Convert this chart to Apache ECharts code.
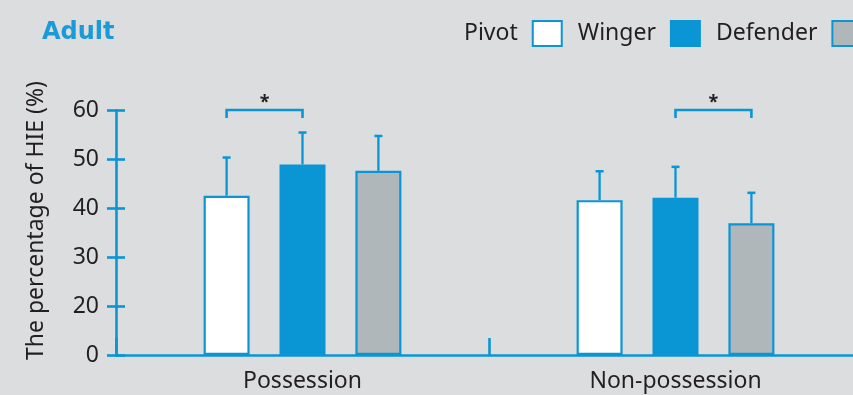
<!DOCTYPE html>
<html>
<head>
<meta charset="utf-8">
<script src="https://cdn.jsdelivr.net/npm/echarts@6.0.0/dist/echarts.min.js"></script>
<style>
  html, body { margin: 0; padding: 0; background: #dcdddf; }
  #chart { width: 853px; height: 395px; }
</style>
</head>
<body>
<div id="chart"></div>
<script>
// Share of HIE by playing position, adult players (mean + SD)
const categories = ['Possession', 'Non-possession'];
const positions = ['Pivot', 'Winger', 'Defender'];
const pivotMean = [42.5, 41.6];
const pivotSD = [7.8, 5.9];
const wingerMean = [48.9, 42.1];
const wingerSD = [6.5, 6.3];
const defenderMean = [47.6, 36.9];
const defenderSD = [7.1, 6.2];
const yTicks = [0, 20, 30, 40, 50, 60];
// significant pairs: [category index, first position, second position, bracket level]
const significance = [[0, 0, 1, 60], [1, 1, 2, 60]];

const BLUE = '#0a95d5';
const TEXT = '#231f20';
const FONT = 'Noto Sans';
const FS = 23;
const BAR_W = 46;
const BAR_GAP = 0.65;
const STEP = BAR_W * (1 + BAR_GAP);
const AXIS_W = 2.6;

const means = [pivotMean, wingerMean, defenderMean];
const sds = [pivotSD, wingerSD, defenderSD];
const fills = ['#ffffff', BLUE, '#b0b7ba'];

const barSeries = positions.map((name, i) => ({
  name: name,
  type: 'bar',
  data: means[i],
  barWidth: BAR_W,
  barGap: (BAR_GAP * 100) + '%',
  itemStyle: { color: fills[i], borderColor: BLUE, borderWidth: 2.2 },
  z: 2
}));

const errorSeries = positions.map((name, i) => ({
  name: name + ' SD',
  type: 'custom',
  data: means[i].map((m, c) => [c, m, sds[i][c]]),
  encode: { x: 0, y: 1 },
  z: 3,
  renderItem: (params, api) => {
    const c = api.value(0), m = api.value(1), s = api.value(2);
    const p0 = api.coord([c, m]);
    const p1 = api.coord([c, m + s]);
    const x = p0[0] + (i - 1) * STEP;
    return {
      type: 'group',
      children: [
        { type: 'line', shape: { x1: x, y1: p0[1], x2: x, y2: p1[1] },
          style: { stroke: BLUE, lineWidth: 2.3 } },
        { type: 'line', shape: { x1: x - 4, y1: p1[1], x2: x + 4, y2: p1[1] },
          style: { stroke: BLUE, lineWidth: 2.5 } }
      ]
    };
  }
}));

const bracketSeries = {
  name: 'significance',
  type: 'custom',
  data: significance,
  encode: { x: 0, y: 3 },
  z: 3,
  renderItem: (params, api) => {
    const c = api.value(0), a = api.value(1), b = api.value(2), lvl = api.value(3);
    const p = api.coord([c, lvl]);
    const xa = p[0] + (a - 1) * STEP;
    const xb = p[0] + (b - 1) * STEP;
    const y = p[1];
    return {
      type: 'group',
      children: [
        { type: 'polyline', shape: { points: [[xa, y + 8], [xa, y], [xb, y], [xb, y + 8]] },
          style: { stroke: BLUE, lineWidth: 2.6, fill: null } },
        { type: 'text', style: { text: '*', x: (xa + xb) / 2, y: y - 7, align: 'center',
          verticalAlign: 'middle', fontSize: 18, fontWeight: 'bold', fontFamily: FONT, fill: TEXT } }
      ]
    };
  }
};

const yBreaks = [{ start: 10, end: 20, gap: 0 }];

const chart = echarts.init(document.getElementById('chart'), null, { renderer: 'canvas' });
chart.setOption({
  backgroundColor: '#dcdddf',
  animation: false,
  title: {
    text: 'Adult',
    left: 37,
    top: 16,
    textStyle: { color: '#1a9ad8', fontSize: 24, fontWeight: 'bold', fontFamily: 'DejaVu Sans' }
  },
  legend: {
    data: positions,
    left: 459,
    top: 15,
    width: 700,
    align: 'right',
    icon: 'rect',
    itemWidth: 29,
    itemHeight: 25,
    itemGap: 15,
    textStyle: { fontSize: FS, color: TEXT, fontFamily: FONT, padding: [0, 10, 0, 0] }
  },
  grid: { left: 116, right: -9, top: 110, bottom: 40, containLabel: false, outerBoundsMode: 'none' },
  xAxis: {
    type: 'category',
    data: categories,
    axisLine: { lineStyle: { color: BLUE, width: AXIS_W } },
    axisTick: { show: true, inside: true, length: 17, lineStyle: { color: BLUE, width: AXIS_W } },
    axisLabel: { fontSize: FS, color: TEXT, fontFamily: FONT, margin: 15 }
  },
  yAxis: [
    {
      type: 'value',
      position: 'left',
      min: 0,
      max: 60,
      breaks: yBreaks,
      breakArea: { show: false },
      name: 'The percentage of HIE (%)',
      nameLocation: 'middle',
      nameGap: 68,
      nameTextStyle: { fontSize: FS, color: TEXT, fontFamily: FONT, padding: [0, 0, 0, 24] },
      axisLine: { show: true, lineStyle: { color: BLUE, width: AXIS_W } },
      axisTick: { show: true, length: 9, customValues: yTicks, lineStyle: { color: BLUE, width: AXIS_W } },
      axisLabel: { fontSize: FS, color: TEXT, fontFamily: FONT, margin: 17, customValues: yTicks },
      splitLine: { show: false }
    },
    {
      type: 'value',
      position: 'left',
      offset: 0,
      min: 0,
      max: 60,
      breaks: yBreaks,
      breakArea: { show: false },
      axisLine: { show: false },
      axisTick: { show: true, inside: true, length: 9, customValues: yTicks, lineStyle: { color: BLUE, width: AXIS_W } },
      axisLabel: { show: false },
      splitLine: { show: false }
    }
  ],
  series: [...barSeries, ...errorSeries, bracketSeries]
});
</script>
</body>
</html>
